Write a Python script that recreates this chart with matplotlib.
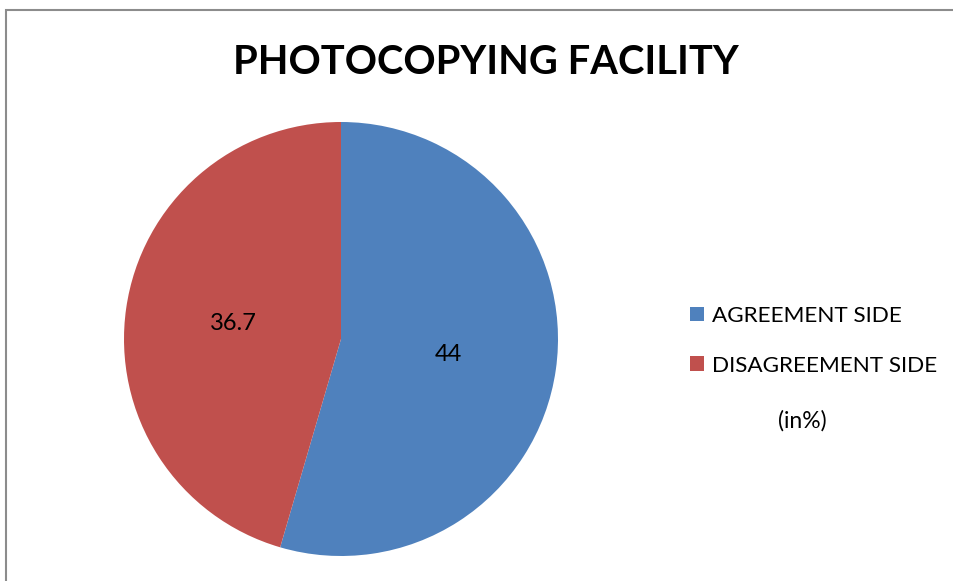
import matplotlib.pyplot as plt
from matplotlib.patches import Rectangle

labels = ["AGREEMENT SIDE", "DISAGREEMENT SIDE"]
values = [44, 36.7]
colors = ["#4F81BD", "#C0504D"]
value_labels = ["44", "36.7"]

plt.rcParams["font.family"] = ["Lato", "DejaVu Sans"]

fig = plt.figure(figsize=(9.54, 5.81), dpi=100)
# chart frame: only top and left edges fall inside the image
fig.patches.append(Rectangle((6 / 954, -0.05), 1.1, 1 - 9.5 / 581 + 0.05, transform=fig.transFigure,
                             fill=False, ec="#8c8c8c", lw=1.5))

ax = fig.add_axes([124 / 954, 25 / 581, 434 / 954, 434 / 581])
wedges, _ = ax.pie(values, colors=colors, startangle=90, counterclock=False,
                   labels=value_labels, labeldistance=0.5,
                   textprops={"fontsize": 17, "ha": "center", "va": "center"})
ax.set_xlim(-1, 1)
ax.set_ylim(-1, 1)
ax.set_aspect("equal")

fig.text(0.509, 1 - 62 / 581, "PHOTOCOPYING FACILITY", ha="center", va="center",
         fontsize=28.7, fontweight="bold")

leg = fig.legend(wedges, labels, loc="upper left", bbox_to_anchor=(670 / 954, 1 - 286 / 581),
                 frameon=False, fontsize=16.2, handlelength=0.6, handleheight=0.6,
                 handletextpad=0.35, labelspacing=1.3)
fig.text(802 / 954, 1 - 421 / 581, "(in%)", ha="center", va="center", fontsize=16.5)

fig.savefig("out.png", dpi=100)
